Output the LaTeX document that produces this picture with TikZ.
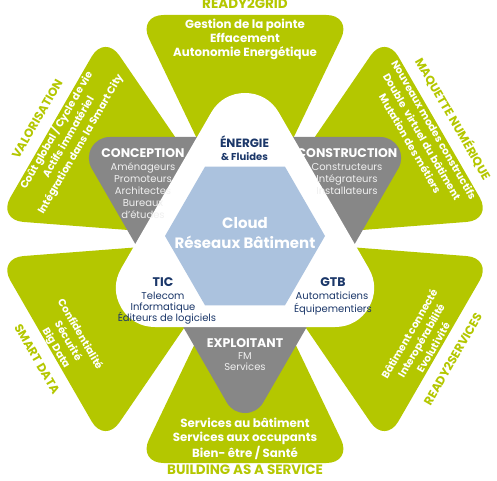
\documentclass[tikz,border=0pt]{standalone}
\usepackage{fontspec}
\setmainfont{Poppins}
\usetikzlibrary{calc}
\definecolor{grn}{RGB}{180,199,0}
\definecolor{gry}{RGB}{135,135,135}
\definecolor{blu}{RGB}{171,194,222}
\definecolor{nvy}{RGB}{27,55,105}
\definecolor{lgry}{RGB}{240,240,240}
\newcommand{\tl}{\rule{0pt}{10pt}}
\newcommand{\bl}{\rule[-3pt]{0pt}{3pt}}
\begin{document}
\begin{tikzpicture}[x=1pt,y=1pt,
  sector/.style={fill=grn, rounded corners=26pt},
  base/.style={inner sep=0pt},
  blockv/.style={base, text=white, align=center, font=\fontsize{11.8}{14}\selectfont\bfseries},
  blockd/.style={base, text=white, align=center, font=\fontsize{10.3}{13.8}\selectfont\bfseries},
  lblv/.style={base, text=grn, font=\fontsize{13.5}{14}\selectfont\bfseries, text height=9.5pt, text depth=0pt},
  lbld/.style={base, text=grn, font=\fontsize{12}{14}\selectfont\bfseries, text height=8.6pt, text depth=0pt},
  hw/.style={base, text=white, font=\fontsize{12.5}{14}\selectfont\bfseries, text height=8.9pt, text depth=0pt},
  hn/.style={base, text=nvy, font=\fontsize{12.5}{14}\selectfont\bfseries, text height=8.9pt, text depth=0pt},
  sg/.style={base, text=lgry, font=\fontsize{10}{12}\selectfont, text height=7.2pt, text depth=0pt},
  sn/.style={base, text=nvy, font=\fontsize{10}{12}\selectfont, text height=7.2pt, text depth=0pt},
  cl/.style={base, text=white, font=\fontsize{15}{16}\selectfont\bfseries, text height=10.8pt, text depth=0pt}]
\useasboundingbox (0,0) rectangle (497,480);
\coordinate (G) at (245,241);
\coordinate (S) at (245,244);
% green sectors
\foreach \a in {90,150,210,270,330,30}{
  \pgfmathsetmacro\lo{\a-25.6}
  \pgfmathsetmacro\hi{\a+25.6}
  \fill[sector] (G) -- ($(G)+(\lo:248.4)$) -- ($(G)+(\hi:248.4)$) -- cycle;
}
% grey triangle (down), corners of radius 21
\filldraw[gry, line width=42pt, line join=round] ($(S)+(150:156)$) -- ($(S)+(30:156)$) -- ($(S)+(270:156)$) -- cycle;
% white triangle (up), corners of radius 39
\filldraw[white, line width=78pt, line join=round] ($(S)+(90:104)$) -- ($(S)+(210:104)$) -- ($(S)+(330:104)$) -- cycle;
% blue hexagon
\fill[blu] ($(S)+(0:80)$) -- ($(S)+(60:80)$) -- ($(S)+(120:80)$) -- ($(S)+(180:80)$) -- ($(S)+(240:80)$) -- ($(S)+(300:80)$) -- cycle;

% top sector
\node[lblv] (rg) at ($(G)+(90:235)$) {READY2GRID};
\node[blockv] (rgt) at ($(G)+(90:200)$) {\tl Gestion de la pointe\\Effacement\\Autonomie Energétique\bl};
% upper-left
\node[lbld, rotate=60] (va) at ($(G)+(150:240)$) {VALORISATION};
\node[blockd, rotate=60] (vat) at ($(G)+(150:204)$) {\tl Coût global / Cycle de vie\\Actifs immatériel\\Intégration dans la Smart City\bl};
% upper-right
\node[lbld, rotate=-60] (mq) at ($(G)+(30:240)$) {MAQUETTE NUMÉRIQUE};
\node[blockd, rotate=-60] (mqt) at ($(G)+(30:204)$) {\tl Nouveaux modes constructifs\\Double\ \ virtuel du bâtiment\\Mutation des métiers\bl};
% lower-left
\node[lbld, rotate=-60] (sd) at ($(G)+(210:240)$) {SMART DATA};
\node[blockd, rotate=-60] (sdt) at ($(G)+(210:204)$) {\tl Confidentialité\\Sécurité\\Big Data\bl};
% lower-right
\node[lbld, rotate=60] (rs) at ($(G)+(330:240)$) {READY2SERVICES};
\node[blockd, rotate=60] (rst) at ($(G)+(330:204)$) {\tl Bâtiment connecté\\Interopérabilité\\Evolutivité\bl};
% bottom
\node[lblv] (bs) at ($(G)+(270:231)$) {BUILDING AS A SERVICE};
\node[blockv] (bst) at ($(G)+(270:200)$) {\tl Services au bâtiment\\Services aux occupants\\Bien- être / Santé\bl};

% inner star texts
\node[hn, font=\fontsize{12}{13}\selectfont\bfseries] (en) at (244.5,337) {ÉNERGIE};
\node[sn, font=\fontsize{10}{11}\selectfont\bfseries] (en1) at (244.5,323) {\& Fluides};
\node[hw] (co) at (143,327) {CONCEPTION};
\node[sg] (co1) at (143,313) {Aménageurs};
\node[sg] (co2) at (143,301) {Promoteurs};
\node[sg] (co3) at (143,289) {Architectes};
\node[sg] (co4) at (143,277) {Bureaux};
\node[sg] (co5) at (143,265) {d'études};
\node[hw] (cs) at (347,327) {CONSTRUCTION};
\node[sg] (cs1) at (347,313) {Constructeurs};
\node[sg] (cs2) at (347,301) {Intégrateurs};
\node[sg] (cs3) at (347,289) {Installateurs};
\node[hn] (ti) at (163,198) {TIC};
\node[sn] (ti1) at (163,184) {Telecom};
\node[sn] (ti2) at (163,173) {Informatique};
\node[sn] (ti3) at (167,162) {Éditeurs de logiciels};
\node[hn] (gt) at (333,198) {GTB};
\node[sn] (gt1) at (332,184) {Automaticiens};
\node[sn] (gt2) at (333,171) {Équipementiers};
\node[hw] (ex) at (245,137) {EXPLOITANT};
\node[sg] (ex1) at (245,124) {FM};
\node[sg] (ex2) at (245,113) {Services};
\node[cl] (cd) at (245,257) {Cloud};
\node[cl] (cd1) at (245,237) {Réseaux Bâtiment};
\end{tikzpicture}
\end{document}
